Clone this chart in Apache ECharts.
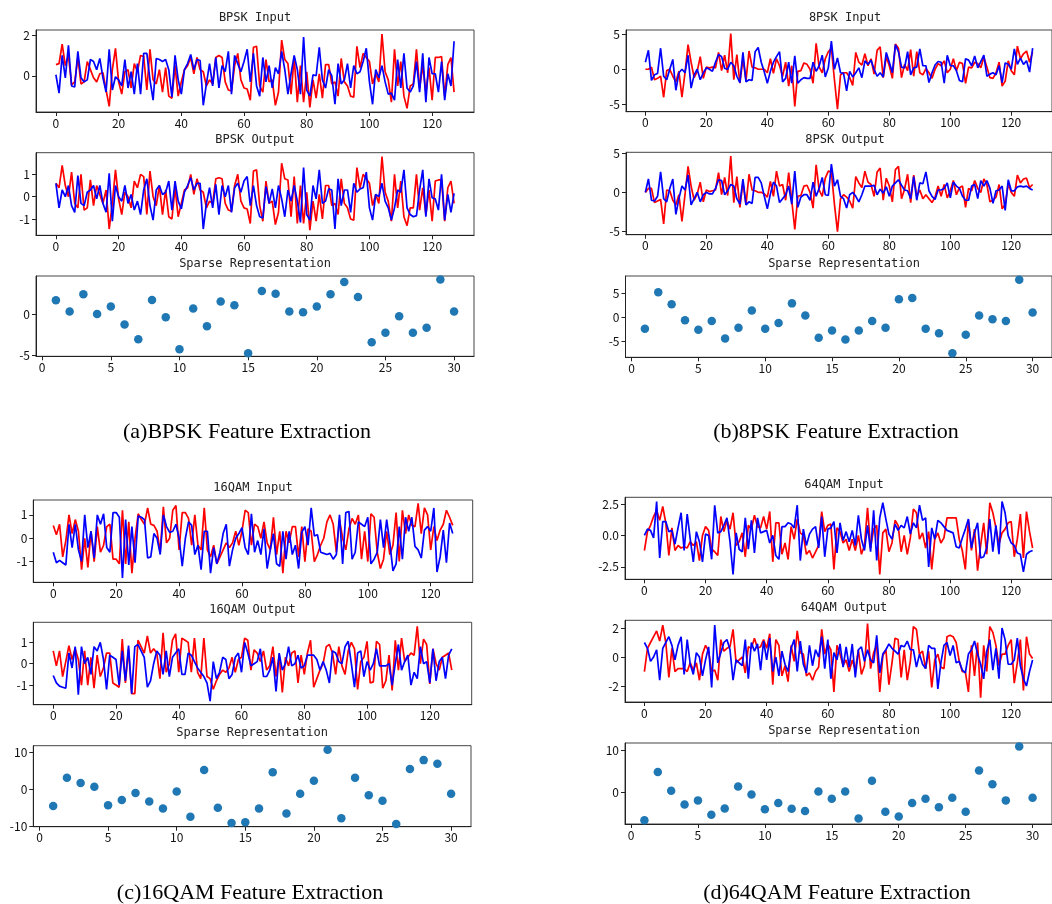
<!DOCTYPE html>
<html><head><meta charset="utf-8">
<script src="https://cdn.jsdelivr.net/npm/echarts@6/dist/echarts.min.js"></script>
<style>html,body{margin:0;padding:0;background:#fff}#c{width:1052px;height:904px}</style>
</head><body><div id="c"></div><script>
// ---- data ----
const bIr=[0.55,0.6,1.55,0.5,1.0,-0.45,-0.3,0.9,-0.4,-0.3,0.7,0.3,-0.1,-0.3,0.1,0.15,
-0.7,-1.5,0.3,1.35,-0.3,-0.9,0.2,0.3,-0.6,0.6,0.2,1.0,0.95,-0.7,1.3,-0.2,
-0.4,0.3,-0.8,0.4,-1.0,-1.1,0.5,-1.0,-0.3,0.3,0.5,0.9,0.1,0.9,0.3,0.2,
-0.5,-0.2,-0.4,0.9,1.0,0.9,-0.3,-0.7,-0.75,0.5,1.1,-0.2,-0.6,-0.65,-1.2,1.4,
1.45,-0.5,-0.8,0.8,-0.3,-0.2,-1.45,-0.8,1.75,0.8,0.6,-0.9,0.9,-1.3,0.5,-1.3,
0.2,-1.55,-0.2,-1.1,0.1,-1.1,0.55,0.55,-0.4,-0.3,-1.0,0.85,-0.3,-0.5,-1.0,-1.05,
1.45,0.4,1.1,0.9,0.7,-0.4,0.1,-0.3,2.05,0.2,-0.2,-1.3,1.3,-0.5,0.7,-1.0,
-1.6,-0.5,-0.4,1.3,-0.6,0.5,-0.8,0.4,-1.2,0.9,0.9,0.95,-1.0,0.55,0.9,-0.8];
const bIb=[0.05,-0.85,1.0,-0.1,1.5,-0.5,-0.55,1.2,-0.1,-0.3,-0.2,0.8,0.7,0.3,0.85,-0.1,
-0.8,1.3,-0.7,-0.05,-0.2,-0.5,0.8,-0.6,0.2,-0.9,0.6,-0.9,1.1,1.1,-0.2,-1.2,
0.85,0.8,0.7,0.8,0.3,-1.05,1.0,-0.2,-0.9,0.3,0.6,1.05,0.3,0.8,0.75,-1.45,
-0.4,0.6,-0.5,0.9,-0.6,0.5,0.2,1.2,-0.9,1.0,0.6,0.2,0.7,1.3,-0.3,1.1,
-0.5,-1.0,0.9,-0.3,0.5,-0.6,0.4,0.1,1.2,0.3,-0.9,0.1,1.0,0.3,-0.9,1.9,
-0.7,-1.0,0.05,0.0,1.4,-0.2,-0.6,0.3,0.0,-1.4,0.6,-0.4,-0.2,0.6,-0.6,0.5,
0.1,0.2,0.7,1.35,-0.3,-1.4,0.3,-0.1,0.5,-0.3,-0.9,-0.85,-1.2,0.8,-0.6,1.1,
-0.6,-0.8,-0.5,0.7,-0.8,1.1,-1.3,0.9,0.1,0.1,-0.8,0.7,-1.2,0.1,-0.5,1.7];
const bOr=[0.6,0.4,1.4,0.5,0.0,1.1,-0.3,-0.5,1.0,-0.6,-0.5,0.75,-0.4,0.5,0.1,-0.3,
0.3,-1.45,-0.3,1.2,-0.1,-0.8,0.2,0.0,-0.5,0.7,0.4,1.0,0.9,-0.8,1.15,0.0,
-0.4,0.5,-0.8,0.3,-0.9,-1.0,0.4,-0.9,-0.3,0.3,0.4,1.0,0.1,0.8,0.3,0.2,
-0.5,-0.2,-0.3,0.8,0.85,0.8,-0.3,-0.6,-0.65,0.5,1.0,-0.2,-0.5,-0.55,-1.2,1.15,
1.2,-0.4,-1.1,0.7,-0.3,-0.2,-1.25,-0.7,1.5,0.8,0.75,-0.9,0.9,-1.2,0.5,-1.2,
0.2,-1.5,-0.2,-1.1,0.1,-1.0,0.5,0.5,-0.4,-0.3,-0.8,0.8,-0.3,-0.5,-1.0,-1.05,
1.3,0.4,1.0,0.8,0.6,-0.4,0.1,-0.3,1.8,0.2,-0.2,-1.1,1.0,-0.5,0.7,-0.9,
-1.3,-0.5,-0.5,1.0,-0.6,0.4,-0.8,0.3,-1.1,0.7,0.75,0.75,-1.1,0.4,0.7,-0.3];
const bOb=[0.6,-0.5,0.3,0.0,0.5,-0.4,-0.7,0.95,-0.3,-0.4,0.2,0.3,0.5,-0.1,0.5,-0.3,
-0.7,1.05,-1.1,0.5,0.0,-0.2,0.5,-0.3,0.1,-0.6,-0.2,-0.8,0.3,0.8,-0.4,-1.05,
0.3,0.5,0.1,0.2,0.7,-0.6,0.7,-0.2,-0.55,0.2,0.5,0.85,0.3,0.6,0.6,-1.45,
-0.3,0.4,-0.5,0.55,-0.8,0.5,0.0,0.5,-0.7,0.4,0.6,0.2,0.7,0.9,-0.4,0.5,
-0.4,-0.9,-0.95,0.45,-0.3,0.35,-0.5,0.5,-0.1,-0.9,0.3,-0.2,0.5,-0.2,-1.15,1.3,
-0.8,-1.05,0.5,-0.1,1.2,-0.3,-0.2,0.35,0.3,-1.45,0.8,-0.4,0.3,0.3,-0.7,0.6,
0.2,0.35,0.4,1.1,-0.5,-1.05,0.1,0.0,0.6,-0.2,-0.5,-1.05,-0.5,0.3,0.2,1.2,
-0.5,-0.8,-0.9,-0.85,0.3,1.2,-0.9,0.8,-0.05,-0.1,-0.6,1.0,-1.05,0.1,-0.7,0.15];
const pIr=[0.0,0.0,0.3,-1.5,-1.3,-1.0,-4.0,-0.2,0.0,-1.0,-1.8,-0.3,-4.0,-0.5,3.5,1.0,
-1.2,-0.3,1.8,-1.3,0.3,0.2,0.3,0.2,2.4,-0.2,2.0,-0.5,5.1,-1.5,2.1,-2.0,
1.5,-1.6,2.6,0.3,0.2,0.0,0.0,0.0,-0.5,1.5,-0.6,1.5,0.5,-1.0,1.0,-2.4,
0.5,-5.3,-0.3,-0.2,0.9,0.7,0.0,-2.0,3.7,0.3,-0.5,1.5,2.5,3.0,-1.5,-5.7,
-0.8,-0.5,-0.5,-1.2,-2.3,2.4,1.0,0.6,2.2,0.5,1.5,-0.7,2.7,3.2,-1.2,1.8,
0.5,-1.3,3.6,3.0,-1.2,0.7,-0.2,2.8,-1.0,2.5,-0.5,-0.8,0.1,-0.5,-1.3,0.0,
0.8,0.5,1.2,-0.5,0.0,1.5,-0.2,1.0,0.8,-2.0,0.3,0.2,1.0,0.8,0.2,1.7,
0.3,-1.2,-1.3,-0.5,1.0,-2.4,-1.7,1.2,-0.2,-0.8,3.3,1.5,2.2,2.6,1.0,2.5];
const pIb=[1.0,2.7,-1.6,-0.8,-0.6,3.0,-1.0,-1.5,0.0,1.4,-3.0,-0.5,0.0,-0.5,2.0,-2.7,
-0.8,0.0,-1.5,-0.5,0.2,0.0,-0.3,1.0,2.1,1.8,0.1,0.0,1.0,0.5,-1.0,-1.9,
2.4,-1.8,-1.5,-1.6,2.5,3.1,1.0,-0.4,-2.0,-0.3,1.0,1.8,2.5,-1.8,-1.3,1.0,
-2.0,1.9,-2.0,-1.5,-1.2,-1.3,-1.3,1.0,-0.3,0.5,2.0,-1.1,0.2,4.0,0.0,1.6,
-0.5,-0.6,-3.1,-0.3,-1.1,-0.5,0.2,-1.2,1.2,0.7,1.3,0.0,-1.0,-0.5,-1.1,2.4,
1.0,-0.5,3.5,2.5,0.3,0.2,2.5,-0.8,0.2,0.3,2.9,0.5,0.5,-1.9,-0.5,0.6,
1.1,1.0,-2.0,2.0,0.5,0.5,-0.2,-1.6,-1.8,1.5,1.3,0.5,1.9,0.2,1.1,2.0,
-1.0,-0.7,-0.5,-0.8,0.5,-1.9,0.9,0.7,0.0,2.9,0.7,1.6,0.7,1.2,-0.4,3.0];
const pOr=[0.0,0.5,0.5,-1.3,-1.1,-0.9,-4.0,0.3,0.2,-1.0,-1.6,-0.3,-3.7,-0.3,3.3,0.8,
-1.0,-0.2,1.3,-1.2,0.3,0.1,0.2,0.3,2.5,-0.3,1.9,-0.4,4.6,-1.3,2.0,-1.9,
1.3,-1.6,2.3,0.3,0.2,0.0,0.0,-0.2,-0.6,1.4,-0.5,2.7,0.8,1.0,-1.0,2.5,
-1.0,-4.7,-0.5,-0.4,0.8,0.9,0.0,-2.0,3.5,0.3,-0.5,1.8,2.7,2.6,-1.5,-5.0,
-0.8,-0.3,-0.6,-1.1,-2.0,2.0,1.2,0.6,2.7,1.3,1.0,-0.5,2.6,3.1,-1.0,1.8,
0.8,-1.2,2.9,3.3,-0.8,0.4,2.3,-1.3,2.2,-0.5,0.3,-0.8,-0.3,-0.8,-1.3,-0.6,
0.8,-0.5,1.0,-0.7,0.2,1.5,-0.3,0.6,0.8,-1.9,0.5,0.2,1.5,0.5,0.0,1.7,
1.0,-1.2,-1.0,-0.6,1.0,-2.1,-1.5,1.1,0.0,-0.5,2.2,1.2,1.7,1.8,0.6,1.0];
const pOb=[0.0,1.7,-1.0,-1.1,-0.5,2.6,-0.8,-1.2,0.5,1.7,-2.8,-0.8,0.8,0.3,2.2,-1.6,
-0.8,0.0,-1.2,-0.3,0.0,-0.2,-0.2,0.5,1.6,1.5,-0.3,0.2,1.0,0.8,-0.8,-1.5,
1.7,-1.6,-1.2,-1.4,1.9,1.9,1.2,-0.5,-2.1,-0.2,1.3,0.8,-1.3,-0.8,-0.3,0.8,
-1.5,2.7,-1.9,-0.6,-0.3,-0.3,-1.0,1.3,-0.5,0.5,1.9,-0.3,-0.4,3.6,0.8,1.6,
-0.5,-0.8,-2.0,-0.3,0.0,-0.5,-1.2,-0.3,0.8,0.8,0.8,0.9,-0.3,0.4,-0.1,0.7,
-0.5,0.8,1.2,1.6,0.9,0.3,0.2,-0.8,2.0,-1.0,1.2,1.1,2.6,0.2,-0.5,-0.9,
0.3,0.3,0.5,1.2,-0.7,1.3,0.8,0.5,-0.5,-1.0,-1.0,0.8,1.0,-0.8,1.5,0.8,
1.5,0.5,-1.4,0.2,0.3,0.8,-2.3,1.6,0.2,0.2,0.7,0.8,0.7,0.8,0.5,0.3];
const qIr=[0.55,0.15,0.6,-0.8,-0.1,1.0,0.2,0.8,0.3,-1.35,0.0,-1.25,0.3,-1.0,0.5,-0.6,
-0.3,0.5,0.6,-0.9,-0.9,-1.1,1.2,-1.1,0.7,-1.5,0.0,1.05,0.8,0.6,1.3,0.6,
0.55,0.3,-0.6,1.35,-0.2,0.0,1.2,1.4,-0.5,1.1,1.1,0.85,-0.3,1.0,-0.3,-0.5,
1.3,-0.5,-0.8,-0.3,-1.1,-0.8,-0.5,-0.2,-0.4,-0.2,0.3,-0.3,0.3,1.2,1.1,-0.3,
0.6,0.5,0.0,0.7,-0.2,-0.5,0.9,-0.7,0.3,-1.5,0.3,-0.2,0.5,0.5,-0.8,0.5,
-1.0,0.4,0.3,-1.0,-0.7,-0.3,0.0,0.7,1.0,0.6,-0.6,0.8,0.0,-0.5,0.4,0.85,
0.6,1.0,-0.9,0.3,-1.0,1.05,0.9,-0.6,-1.3,-0.9,0.3,-0.7,-0.3,1.1,-1.0,1.2,
0.2,1.0,0.55,0.5,1.5,0.2,1.3,1.0,-0.5,0.5,-0.1,0.35,0.6,1.2,0.9,0.55];
const qIb=[-0.6,-1.05,-0.95,-1.05,-1.15,0.6,-0.4,0.6,-0.5,-1.0,1.0,-0.4,0.3,-0.85,1.0,0.6,
1.05,-0.4,-0.6,1.1,1.1,0.9,-1.7,0.8,-1.15,0.5,-1.05,0.95,0.9,0.8,-0.85,-0.8,
0.2,0.0,-0.7,1.0,0.5,0.25,0.3,0.6,0.0,-1.2,0.0,0.7,0.55,-0.7,-0.3,-1.35,
0.3,0.3,-1.5,-0.4,-1.1,-0.6,0.2,0.6,-1.2,-0.5,0.0,0.2,0.45,-0.4,-0.7,1.05,
-0.6,-0.1,-0.7,0.4,-1.3,-0.5,0.2,-1.1,-1.2,0.3,-0.9,0.3,-0.7,-0.3,-1.3,0.25,
0.5,-0.3,1.3,0.1,0.15,-0.6,-0.65,-0.7,-0.65,-0.9,-0.7,1.0,-1.1,1.1,1.15,-0.9,
-0.6,0.7,0.6,0.5,0.9,-1.1,-0.9,-0.6,0.8,-0.4,0.8,-0.2,-1.4,-1.1,0.5,-0.9,
0.9,0.3,0.9,-0.35,-0.5,-0.85,0.35,0.5,0.3,1.3,-1.45,-0.8,0.35,-1.05,0.65,0.2];
const qOr=[0.6,-0.1,0.6,-0.6,0.1,0.85,0.2,0.7,0.2,-1.0,0.6,-1.0,0.3,-1.15,0.4,-0.6,
-0.2,0.5,0.5,-0.9,-1.0,-1.1,1.15,-0.9,0.7,-1.4,-1.4,1.1,0.8,0.5,1.3,0.5,
0.7,0.5,-0.7,1.45,-0.4,0.0,1.1,1.4,-0.4,1.2,1.1,1.0,-0.4,1.2,-0.4,-0.7,
1.2,-0.6,-0.7,-1.2,-0.8,-0.5,-0.3,-0.4,-0.2,0.3,-0.4,0.2,0.3,1.2,1.1,-0.3,
0.65,0.5,0.1,0.6,-0.3,-0.1,0.8,-0.6,0.4,-1.35,0.3,-0.1,0.5,0.6,-0.9,0.4,
-0.5,0.5,1.1,-1.1,-0.7,-0.3,0.0,0.8,0.9,0.5,-0.5,0.8,-0.1,-0.5,0.6,1.0,
0.7,-1.2,0.1,0.3,1.05,-0.9,-0.85,1.05,0.9,-1.15,-0.8,0.4,-1.25,1.1,-0.3,1.2,
0.1,0.3,0.5,0.4,1.75,0.0,1.15,0.9,-0.95,0.7,0.0,-0.3,0.3,0.4,0.5,-0.3];
const qOb=[-0.55,-0.9,-1.05,-1.1,-1.15,0.5,-0.2,0.8,-1.45,0.8,0.0,0.3,-0.5,0.8,0.6,1.0,
0.2,-1.2,0.4,0.3,0.2,-1.0,0.6,-0.8,0.85,-1.4,0.8,0.9,0.6,0.3,-1.1,-0.8,
0.0,0.6,0.4,-0.5,0.6,-0.6,0.3,0.5,0.7,-0.5,-0.5,0.5,0.4,0.1,-0.2,-0.4,
-0.6,-0.9,-1.75,0.1,-0.7,-0.4,0.3,0.2,-0.7,-0.5,0.3,0.5,-0.4,1.0,0.5,-0.1,
0.0,0.1,0.7,-0.6,-0.6,-0.3,0.3,-1.3,0.5,-0.3,0.0,0.8,-0.1,0.0,0.4,-0.2,
-0.1,0.4,0.4,0.4,0.2,-0.3,0.1,-0.3,-0.9,0.6,0.5,0.1,0.0,0.8,1.05,0.0,
-1.1,0.5,0.6,-0.6,0.1,-0.3,0.0,0.7,-0.1,-0.1,-0.1,0.0,-1.0,0.0,0.9,-0.3,
0.1,0.4,-1.0,-0.4,-0.7,0.8,0.0,0.1,-0.9,0.7,-0.8,0.1,0.3,-0.7,0.4,0.7];
const mIr=[-1.2,0.3,0.8,1.5,2.0,1.2,2.3,1.0,-1.6,0.6,-1.2,-0.8,-1.0,-0.9,-1.0,-0.5,
-0.8,-0.5,-2.0,0.0,0.7,0.4,-1.1,-1.3,-1.6,1.5,0.3,1.2,0.5,1.8,-0.8,-0.5,
0.2,-1.7,0.8,0.5,1.6,0.7,0.6,1.5,0.5,1.9,-2.1,1.0,1.0,-1.5,-0.6,-1.9,
0.7,-0.3,1.3,0.2,0.0,-1.5,-1.2,-1.8,-1.3,-0.8,1.9,0.3,0.8,0.9,-2.7,0.6,
0.3,-0.6,-0.3,-1.2,-0.3,-1.2,0.0,-1.5,-0.8,2.2,-1.0,0.5,0.8,-3.1,0.2,0.5,
-1.3,-0.6,1.2,0.8,-1.3,0.0,-1.5,-0.2,2.1,1.8,-0.3,0.2,-1.0,0.3,-2.7,-0.3,
0.2,-0.6,-0.2,1.4,1.4,1.4,1.4,-0.3,-1.2,-2.7,1.2,-1.2,0.5,-2.8,-0.8,1.0,
-1.5,2.6,1.8,0.6,-0.7,0.2,0.5,1.0,1.1,-1.7,-0.3,1.7,-1.8,1.9,0.3,-1.0];
const mIb=[0.0,0.5,0.4,-0.2,2.7,-1.8,1.1,1.1,0.3,0.4,-0.7,0.6,1.8,-1.2,1.7,-0.3,
-2.1,0.3,-0.5,-2.1,0.1,0.0,-1.9,2.4,0.2,0.3,0.8,1.4,-0.5,-3.1,0.2,-1.1,
-1.3,1.4,-1.1,1.2,-1.4,1.4,0.2,0.3,0.4,-0.6,0.0,-1.6,-1.9,0.7,0.7,1.0,
0.9,0.6,2.4,-2.0,0.5,-0.8,0.1,0.5,0.7,-1.0,1.5,-1.7,0.5,0.6,1.1,-1.4,
1.0,-0.4,0.3,-0.5,0.4,-0.8,1.6,-0.3,-1.2,0.8,-1.3,2.0,-2.0,1.4,2.6,1.3,
0.1,-0.3,0.9,0.4,0.8,0.6,1.5,0.1,1.0,0.6,2.4,1.2,1.4,-2.5,0.6,-0.3,
1.2,1.0,0.7,0.4,0.3,0.2,-0.9,-1.0,-0.2,0.5,1.3,-1.0,0.2,1.0,-1.8,-1.7,
-1.0,1.3,-1.3,0.8,-1.5,2.7,1.8,0.0,-0.6,-0.8,-1.4,-1.5,-2.9,-1.5,-1.3,-1.2];
const mOr=[-1.0,0.6,1.0,1.4,1.8,1.1,2.2,1.0,-1.4,0.6,-1.0,-0.8,-0.8,-0.8,-1.0,-0.4,
-0.9,-0.4,-1.6,0.2,0.8,0.4,-1.0,-0.9,-1.6,1.2,0.4,0.6,0.7,1.9,-0.4,-0.2,
0.0,-1.1,0.7,0.6,1.3,0.6,0.7,1.2,0.6,1.6,-1.9,1.2,0.8,-1.3,-0.6,-1.7,
0.8,-0.3,1.8,0.3,0.2,-1.3,-1.1,-1.6,-1.0,-0.7,1.9,0.2,0.9,0.5,-2.4,0.8,
0.2,-0.6,-0.2,-1.0,-0.2,-0.9,0.5,-1.2,-0.6,2.3,-0.8,0.3,0.8,-2.4,0.1,0.5,
-1.9,-0.4,1.3,1.2,-1.4,0.5,-1.6,-0.3,2.1,1.9,0.2,0.4,-0.8,0.4,-2.1,-0.2,
0.2,-0.7,-0.8,1.4,1.5,1.4,1.0,-0.3,-1.0,-1.0,-2.4,0.8,-1.3,1.0,-2.8,0.8,
-1.0,2.1,1.7,0.8,-0.6,0.2,0.2,0.8,1.2,-1.8,-0.4,1.2,-2.3,1.4,0.2,-0.1];
const mOb=[1.0,0.6,-0.3,0.0,0.5,-1.6,0.6,1.0,1.4,0.8,-0.2,0.8,1.4,-1.2,1.2,-0.5,
-1.2,0.3,0.0,-1.3,-0.2,0.7,-2.1,2.2,-0.4,0.3,1.0,1.2,0.5,-1.6,-0.2,-0.4,
-0.6,1.2,-1.5,1.0,0.4,0.9,-0.9,1.1,-0.2,1.3,-1.0,0.0,-1.3,0.4,-0.5,-1.0,
0.6,1.2,-1.0,1.1,-0.5,-1.1,0.8,-0.6,0.5,0.0,1.4,-0.8,1.2,-1.5,0.3,-0.2,
0.9,-0.7,0.7,-0.7,0.9,-1.4,0.5,0.7,-0.3,0.5,-0.2,-0.4,1.5,-1.1,0.2,0.5,
0.9,0.6,0.4,0.2,0.8,0.7,1.1,0.5,0.5,-0.7,0.2,-0.5,-0.8,0.8,0.6,0.6,
-2.2,-0.4,0.8,1.0,0.1,0.8,-0.4,-0.3,-0.9,-1.1,0.2,0.5,1.1,0.2,-0.5,-1.5,
0.4,1.2,-0.9,0.6,-1.5,2.0,1.2,-0.5,-0.5,-0.2,1.3,-0.6,-1.5,-2.0,-1.0,-0.2];
const sparseIdx=[1,2,3,4,5,6,7,8,9,10,11,12,13,14,15,16,17,18,19,20,21,22,23,24,25,26,27,28,29,30];
const bS=[1.75,0.4,2.5,0.1,1.0,-1.2,-3.0,1.8,-0.3,-4.2,0.75,-1.4,1.6,1.15,-4.7,2.9,2.55,0.4,0.3,1.0,2.5,4.0,2.15,-3.35,-2.2,-0.2,-2.2,-1.6,4.3,0.4];
const pS=[-2.4,5.2,2.7,-0.6,-2.6,-0.75,-4.4,-2.2,1.4,-2.4,-1.2,2.9,0.35,-4.25,-2.75,-4.6,-2.75,-0.75,-2.2,3.75,4.0,-2.4,-3.3,-7.5,-3.65,0.35,-0.4,-0.75,7.8,1.0];
const qS=[-4.5,3.15,1.7,0.7,-4.3,-2.9,-1.0,-3.3,-5.2,-0.6,-7.4,5.2,-5.0,-9.1,-8.9,-5.2,4.6,-6.5,-1.2,2.3,10.7,-7.8,3.15,-1.6,-3.1,-9.4,5.5,7.9,6.9,-1.2];
const mS=[-6.6,4.8,0.4,-2.9,-1.9,-5.3,-3.8,1.4,-0.5,-4.0,-2.5,-3.9,-4.4,0.2,-1.5,0.2,-6.2,2.75,-4.6,-5.7,-2.5,-1.5,-3.5,-1.3,-4.6,5.2,1.9,-1.9,10.9,-1.3];
// tick labels
const lineXTicks=[0,20,40,60,80,100,120];
const sparseXTicks=[0,5,10,15,20,25,30];
const bIy=[0,2], bOy=[-1,0,1], bSy=[-5,0];
const pIy=[-5,0,5], pOy=[-5,0,5], pSy=[-5,0,5];
const qIy=[-1,0,1], qOy=[-1,0,1], qSy=[-10,0,10];
const mIy=[-2.5,0,2.5], mOy=[-2,0,2], mSy=[0,10];
const captions=['(a)BPSK Feature Extraction','(b)8PSK Feature Extraction','(c)16QAM Feature Extraction','(d)64QAM Feature Extraction'];

// ---- layout ----
const panels=[
 {t:'BPSK Input',kind:'line',r:bIr,b:bIb,box:[36,30,438,82],y:[-1.78,2.25],yt:bIy},
 {t:'BPSK Output',kind:'line',r:bOr,b:bOb,box:[36,152.7,438,82.6],y:[-1.73,1.97],yt:bOy},
 {t:'Sparse Representation',kind:'sc',s:bS,box:[36,276,438,80.3],y:[-5.07,4.72],yt:bSy},
 {t:'8PSK Input',kind:'line',r:pIr,b:pIb,box:[626,30,438,81.7],y:[-6.06,5.6],yt:pIy},
 {t:'8PSK Output',kind:'line',r:pOr,b:pOb,box:[626,152.3,438,82.4],y:[-5.38,5.09],yt:pOy},
 {t:'Sparse Representation',kind:'sc',s:pS,box:[625.5,276,437,81.3],y:[-8.33,8.6],yt:pSy},
 {t:'16QAM Input',kind:'line',r:qIr,b:qIb,box:[33.3,500,439.4,82.3],y:[-1.89,1.64],yt:qIy},
 {t:'16QAM Output',kind:'line',r:qOr,b:qOb,box:[33.3,622.3,438.4,82.4],y:[-1.92,1.94],yt:qOy},
 {t:'Sparse Representation',kind:'sc',s:qS,box:[33.3,745.7,437.7,81],y:[-10.1,11.8],yt:qSy},
 {t:'64QAM Input',kind:'line',r:mIr,b:mIb,box:[625,497.3,438,82],y:[-3.49,3.03],yt:mIy,dec:1},
 {t:'64QAM Output',kind:'line',r:mOr,b:mOb,box:[625,620.3,438,81.7],y:[-3.1,2.53],yt:mOy},
 {t:'Sparse Representation',kind:'sc',s:mS,box:[625,743,438,81],y:[-7.5,11.7],yt:mSy}
];
const capPos=[[247,432],[836,432],[250,893],[837,893]];

const TF='"DejaVu Sans Mono", monospace';
const LF='"Noto Sans CJK SC", "Noto Sans", sans-serif';
const grid=[],xAxis=[],yAxis=[],series=[],graphic=[];
panels.forEach((p,k)=>{
  const [l,t,w,h]=p.box;
  grid.push({left:l,top:t,width:w,height:h,show:true,borderColor:'#444',borderWidth:1,backgroundColor:'transparent',containLabel:false});
  const isLine=p.kind==='line';
  const xt=isLine?lineXTicks:sparseXTicks;
  xAxis.push({type:'value',gridIndex:k,min:isLine?-6.35:-0.45,max:isLine?133.35:31.45,
    axisLine:{show:true,onZero:false,lineStyle:{color:'#222',width:1}},
    axisTick:{show:true,length:4,customValues:xt,lineStyle:{color:'#222'}},
    axisLabel:{show:true,customValues:xt,margin:5,fontSize:12,fontFamily:LF,color:'#111',showMinLabel:true,showMaxLabel:true},
    splitLine:{show:false}});
  yAxis.push({type:'value',gridIndex:k,min:p.y[0],max:p.y[1],
    axisLine:{show:true,onZero:false,lineStyle:{color:'#222',width:1}},
    axisTick:{show:true,length:4,customValues:p.yt,lineStyle:{color:'#222'}},
    axisLabel:{show:true,customValues:p.yt,margin:6,fontSize:12,fontFamily:LF,color:'#111',
      formatter:v=>p.dec?Number(v).toFixed(p.dec):String(v)},
    splitLine:{show:false}});
  if(isLine){
    series.push({type:'line',xAxisIndex:k,yAxisIndex:k,data:p.r.map((v,i)=>[i,v]),showSymbol:false,symbol:'none',
      lineStyle:{color:'#ff0000',width:1.7},itemStyle:{color:'#ff0000'},animation:false,silent:true});
    series.push({type:'line',xAxisIndex:k,yAxisIndex:k,data:p.b.map((v,i)=>[i,v]),showSymbol:false,symbol:'none',
      lineStyle:{color:'#0000ff',width:1.7},itemStyle:{color:'#0000ff'},animation:false,silent:true});
  } else {
    series.push({type:'scatter',xAxisIndex:k,yAxisIndex:k,data:sparseIdx.map((x,i)=>[x,p.s[i]]),symbolSize:8.5,
      itemStyle:{color:'#1f77b4',opacity:1},animation:false,silent:true,clip:false});
  }
  graphic.push({type:'text',x:l+w/2,y:t-12.5,silent:true,
    style:{text:p.t,font:'12px '+TF,fill:'#222',textAlign:'center',textVerticalAlign:'middle',verticalAlign:'middle'}});
});
captions.forEach((c,i)=>{
  graphic.push({type:'text',x:capPos[i][0],y:capPos[i][1],silent:true,
    style:{text:c,font:'22px "Liberation Serif", "Times New Roman", serif',fill:'#000',textAlign:'center',textVerticalAlign:'middle',verticalAlign:'middle'}});
});
const chart=echarts.init(document.getElementById('c'),null,{renderer:'canvas'});
chart.setOption({animation:false,backgroundColor:'#fff',grid,xAxis,yAxis,series,graphic});
</script></body></html>
